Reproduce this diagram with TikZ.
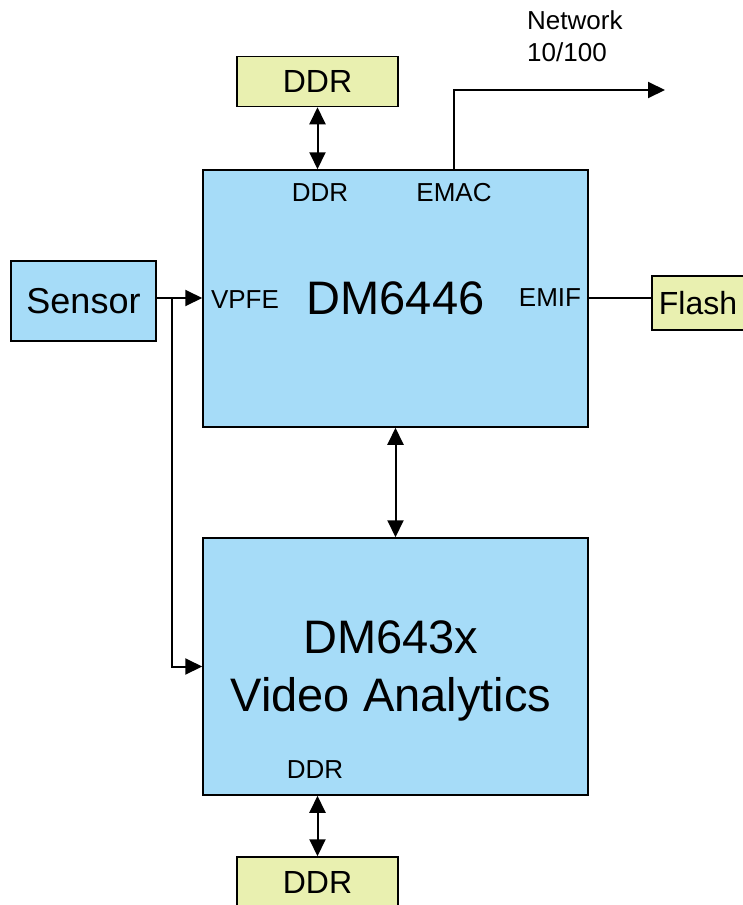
\documentclass[tikz,border=0pt]{standalone}
\usepackage{fontspec}
\setmainfont{Liberation Sans}
\usetikzlibrary{
    arrows.meta,
    positioning
}
\definecolor{chipblue}{RGB}{166, 220, 248}
\definecolor{memyellow}{RGB}{233, 240, 176}
\tikzstyle{chip} = [
    rectangle, draw=black,
    line width=1.5pt,
    fill=chipblue,
    minimum width=385pt,
    minimum height=257pt,
    align=center,
    inner sep=0pt,
    font=\fontsize{47}{57}\selectfont
]
\tikzstyle{mem} = [
    rectangle, draw=black,
    line width=1.5pt,
    fill=memyellow,
    minimum width=161pt,
    minimum height=50pt,
    inner sep=0pt,
    font=\fontsize{32}{38}\selectfont
]
\tikzstyle{port} = [
    inner sep=0pt,
    font=\fontsize{26}{31}\selectfont
]
\tikzstyle{wire} = [
    line width=2pt
]
\tikzstyle{arrow} = [
    line width=2pt,
    -{Triangle[length=17pt,width=16pt]}
]
\tikzstyle{dblarrow} = [
    line width=2pt,
    {Triangle[length=17pt,width=16pt]}-{Triangle[length=17pt,width=16pt]}
]

\begin{document}
\begin{tikzpicture}[x=1pt, y=-1pt]

\useasboundingbox (0,0) rectangle (742,905);

\node (dm6446) [chip] at (395.5,298.5) {DM6446};
\node (dm643x) [chip] at (395.5,666.5) {};
\node (va) [inner sep=0pt, align=center, font=\fontsize{47}{58}\selectfont]
    at (391,671) {DM643x\\Video Analytics};

\node (ddrtop) [mem] at (317.5,81.5) {DDR};
\node (ddrbot) [mem] at (317.5,882) {DDR};
\node (flash) [mem, minimum width=92pt, minimum height=54pt] at (698,303) {Flash};
\node (sensor) [mem, fill=chipblue, minimum width=145pt, minimum height=80pt,
    font=\fontsize{36}{43}\selectfont] at (83.5,301) {Sensor};

% port labels
\node (ddrport) [port] at (320,193) {DDR};
\node (emac) [port] at (454,193) {EMAC};
\node (vpfe) [port] at (245,300) {VPFE};
\node (emif) [port] at (550,298) {EMIF};
\node (ddrport2) [port] at (315,770) {DDR};

\node (network) [port, anchor=west, align=left, font=\fontsize{26}{32}\selectfont]
    at (527,36) {Network\\10/100};

\coordinate (netend) at (665,90);
\coordinate (split) at (172,298);

\draw [dblarrow] (ddrtop.south) -- (ddrtop.south |- dm6446.north);
\draw [dblarrow] (dm6446.south) -- (dm643x.north);
\draw [dblarrow] (dm643x.south -| ddrbot) -- (ddrbot.north);

\draw [arrow] (dm6446.north -| emac) |- (netend);
\draw [wire] (dm6446.east |- emif) -- (flash.west |- emif);

\draw [arrow] (sensor.east |- split) -- (dm6446.west |- split);
\draw [arrow] (split) |- (dm643x.west);

\end{tikzpicture}
\end{document}
